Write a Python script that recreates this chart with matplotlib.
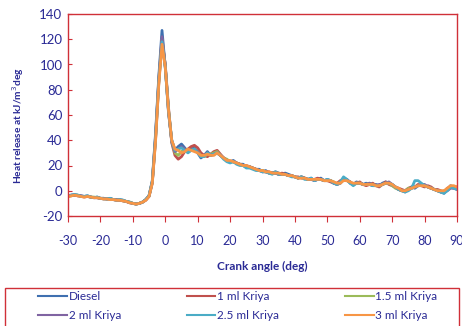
import matplotlib.pyplot as plt
import numpy as np
from matplotlib.patches import Rectangle

# crank angle, deg
angle = np.arange(-30, 91, 1)

diesel = [-4, -3.5, -3, -3.5, -4, -4.5, -4, -5, -5.5, -5, -6, -6, -6.5, -6, -7, -7.5, -7, -7.5, -8.5, -9,
          -10, -10.5, -10, -9, -7, -4, 8, 45, 90, 127, 98, 62, 40, 32, 35, 37, 34, 31, 33, 34,
          30, 26, 28, 31, 28, 29, 30, 28, 26, 24, 23, 24, 22, 21, 21, 19, 19, 18, 17, 17,
          15, 16, 14, 14, 15, 14, 13, 14, 13, 12, 11, 10, 11, 10, 9, 10, 8, 9, 10, 8,
          9, 8, 6, 5, 7, 10, 9, 6, 5, 7, 6, 5, 6, 5, 4, 5, 4, 6, 7, 6,
          5, 3, 1, 0, -1, 1, 3, 2, 4, 5, 4, 3, 2, 1, 0, -1, -2, 1, 4, 3, 2]
kriya_1 = [-4.5, -4, -3.5, -4, -4.5, -5, -4.5, -5, -5.5, -5.5, -6, -6.5, -6.5, -6.5, -7, -7.5, -7.5, -8, -8.5, -9.5,
           -10, -10.5, -10, -9, -7.5, -4.5, 6, 40, 85, 119, 100, 66, 38, 28, 25, 27, 31, 33, 35, 36,
           34, 30, 28, 27, 29, 31, 32, 29, 26, 24, 23, 23, 22, 21, 20, 20, 19, 18, 17, 16,
           16, 15, 15, 14, 14, 13, 14, 13, 12, 12, 11, 11, 10, 10, 9, 9, 9, 10, 9, 8,
           8, 7, 6, 6, 8, 9, 8, 7, 5, 6, 7, 5, 4, 5, 6, 4, 3, 5, 7, 5,
           4, 3, 2, 1, 0, 2, 3, 3, 5, 4, 3, 4, 3, 1, 1, 0, -1, 2, 3, 2, 3]
kriya_15 = [-4, -4, -3.5, -3.5, -4.5, -4.5, -4.5, -5, -5, -5.5, -6, -6, -6.5, -6.5, -7, -7, -7.5, -8, -8.5, -9,
            -10, -10.5, -10, -9, -7, -4, 7, 42, 87, 120, 99, 64, 39, 30, 28, 31, 33, 32, 32, 33,
            31, 28, 27, 29, 29, 30, 31, 28, 26, 25, 23, 23, 22, 21, 20, 19, 19, 18, 17, 16,
            16, 15, 14, 14, 14, 13, 13, 13, 12, 12, 11, 10, 11, 10, 9, 9, 9, 9, 9, 8,
            8, 8, 7, 5, 6, 9, 8, 7, 5, 6, 6, 5, 5, 6, 5, 4, 4, 5, 6, 6,
            4, 2, 1, 0, 0, 2, 2, 3, 4, 5, 4, 3, 2, 1, 0, -1, 0, 1, 3, 3, 2]
kriya_2 = [-4, -3.5, -3.5, -4, -4, -4.5, -4.5, -5, -5.5, -5.5, -6, -6, -6.5, -6.5, -7, -7, -7.5, -8, -8.5, -9.5,
           -10, -10.5, -10, -9, -7, -4, 7, 43, 88, 122, 99, 63, 39, 31, 33, 35, 33, 31, 32, 33,
           31, 27, 28, 30, 28, 29, 30, 28, 26, 24, 23, 23, 22, 21, 20, 19, 19, 18, 17, 16,
           15, 15, 14, 14, 14, 13, 13, 13, 12, 12, 11, 10, 11, 10, 9, 9, 8, 9, 9, 8,
           8, 8, 6, 5, 6, 9, 9, 7, 5, 6, 6, 5, 5, 6, 5, 4, 5, 5, 6, 7,
           5, 3, 1, 0, 0, 1, 2, 3, 4, 5, 5, 3, 2, 1, 0, -1, -1, 0, 2, 2, 1]
kriya_25 = [-4, -3.5, -3, -3.5, -4.5, -4.5, -4, -5, -5.5, -5, -6, -6.5, -6.5, -6, -7, -7.5, -7, -7.5, -8.5, -9,
            -10, -10.5, -10, -9, -7, -4, 7, 41, 86, 118, 98, 64, 40, 32, 33, 34, 32, 30, 32, 33,
            30, 27, 27, 30, 28, 29, 30, 28, 25, 23, 22, 23, 21, 20, 20, 18, 18, 17, 16, 16,
            15, 15, 14, 13, 15, 13, 13, 13, 12, 11, 11, 10, 11, 9, 9, 10, 8, 9, 9, 8,
            9, 8, 6, 5, 7, 11, 9, 6, 4, 6, 6, 5, 5, 5, 4, 4, 4, 5, 6, 6,
            5, 3, 1, 0, -1, 0, 2, 8, 8, 6, 4, 3, 2, 1, 0, -1, -2, 0, 3, 2, 1]
kriya_3 = [-4.5, -4, -3.5, -4, -4.5, -5, -4.5, -5, -5.5, -5.5, -6, -6.5, -6.5, -7, -7, -7.5, -7.5, -8, -8.5, -9.5,
           -10, -10.5, -10, -9, -7.5, -4.5, 6, 39, 84, 116, 98, 64, 40, 33, 32, 30, 31, 33, 32, 31,
           30, 28, 28, 29, 28, 28, 30, 28, 26, 24, 24, 23, 22, 21, 20, 20, 19, 18, 17, 16,
           16, 15, 15, 14, 14, 14, 13, 13, 12, 12, 11, 10, 10, 10, 9, 9, 9, 9, 9, 8,
           8, 8, 7, 6, 6, 8, 8, 7, 6, 6, 6, 5, 5, 5, 5, 4, 4, 5, 6, 6,
           5, 3, 2, 0, 0, 1, 2, 3, 4, 4, 4, 3, 2, 1, 0, 0, 0, 2, 4, 4, 3]

series = [diesel, kriya_1, kriya_15, kriya_2, kriya_25, kriya_3]
labels = ['Diesel', '1 ml Kriya', '1.5 ml Kriya', '2 ml Kriya', '2.5 ml Kriya', '3 ml Kriya']
colors = ['#3F70B0', '#C0504D', '#9BBB59', '#8064A2', '#4BACC6', '#F79646']

navy = '#2A2A95'
red = '#D03038'

plt.rcParams['font.family'] = ['Lato', 'DejaVu Sans']
plt.rcParams['axes.unicode_minus'] = False

fig = plt.figure(figsize=(4.62, 3.26), dpi=100)
ax = fig.add_axes([68 / 462, 1 - 216 / 326, 389 / 462, 202 / 326])

lines = []
for y, lab, c in zip(series, labels, colors):
    ln, = ax.plot(angle, y, color=c, lw=2, label=lab)
    lines.append(ln)

ax.set_xlim(-30, 90)
ax.set_ylim(-20, 140)
ax.set_xticks(range(-30, 91, 10))
ax.set_yticks(range(-20, 141, 20))

for s in ax.spines.values():
    s.set_color(red)
    s.set_linewidth(1)
ax.tick_params(axis='x', direction='out', length=4, color=red, labelcolor=navy,
               labelsize=9, pad=10)
ax.tick_params(axis='y', direction='in', length=3, color=red, labelcolor=navy,
               labelsize=9.5, pad=4)

ax.set_xlabel('Crank angle (deg)', color=navy, fontsize=8.5, fontweight='bold', labelpad=10)
fig.text(18 / 462, 1 - 126 / 326, 'Heat release at kJ/m$^3$deg', rotation=90,
         ha='center', va='center', color=navy, fontsize=7.3, fontweight='bold')

# legend is filled column by column, so reorder to get rows like the reference
order = [0, 3, 1, 4, 2, 5]
leg = fig.legend([lines[i] for i in order], [labels[i] for i in order],
                 loc='center', bbox_to_anchor=(238 / 462, 1 - 306 / 326),
                 ncol=3, frameon=False, fontsize=8.5,
                 handlelength=2.4, handletextpad=0.15, labelspacing=0.65,
                 columnspacing=5.6, borderaxespad=0)
for t in leg.get_texts():
    t.set_color(navy)
for h in leg.get_lines():
    h.set_linewidth(1.5)

fig.patches.append(Rectangle((5 / 462, -0.02), 454 / 462, 1 - 288 / 326 + 0.02,
                             transform=fig.transFigure, fill=False,
                             edgecolor=red, linewidth=1))

fig.savefig('out.png', dpi=100)
